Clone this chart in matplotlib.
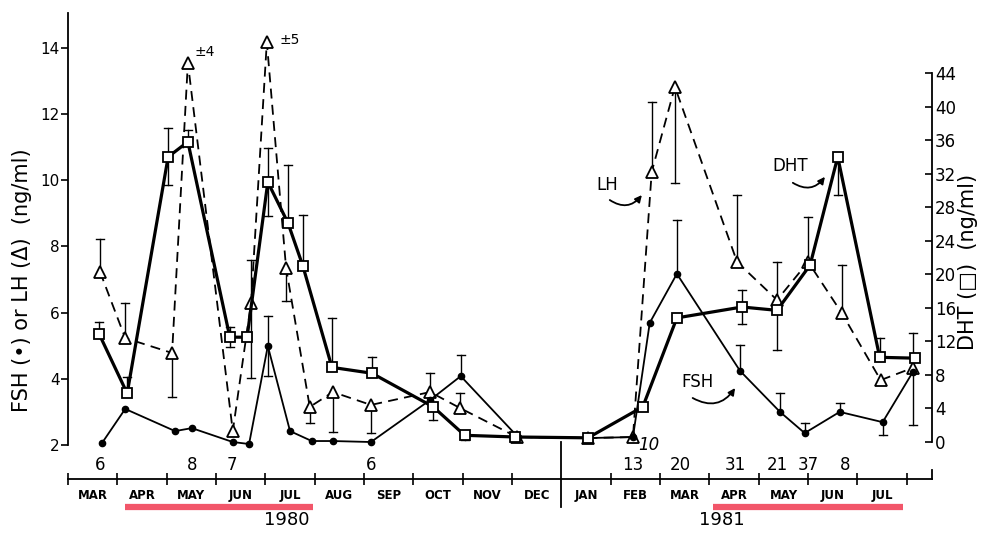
import numpy as np
import matplotlib.pyplot as plt

# x is in months counted from the start of March 1980
month_names = ['MAR', 'APR', 'MAY', 'JUN', 'JUL', 'AUG', 'SEP', 'OCT', 'NOV', 'DEC',
               'JAN', 'FEB', 'MAR', 'APR', 'MAY', 'JUN', 'JUL']

# FSH (ng/ml), filled dots
fsh_x = [0.69, 1.16, 2.17, 2.51, 3.34, 3.67, 4.05, 4.50, 4.94, 5.37, 6.14, 7.34, 7.96,
         9.12, 10.56, 11.45, 11.79, 12.34, 13.62, 14.43, 14.93, 15.64, 16.51, 17.12]
fsh = [2.06, 3.09, 2.42, 2.51, 2.09, 2.03, 4.99, 2.42, 2.12, 2.12, 2.09, 3.36, 4.08,
       2.24, 2.21, 2.24, 5.69, 7.17, 4.24, 3.00, 2.36, 3.00, 2.69, 4.20]
fsh_hi = [0, 0, 0, 0, 0, 0, 0.9, 0, 0, 0, 0, 0, 0.64,
          0, 0, 0, 0, 1.63, 0.78, 0.57, 0.30, 0.27, 0, 0]
fsh_lo = [0, 0, 0, 0, 0, 0, 0.9, 0, 0, 0, 0, 0, 0,
          0, 0, 0, 0, 0, 0, 0, 0, 0, 0.39, 0]

# LH (ng/ml), open triangles
lh_x = [0.65, 1.16, 2.11, 2.43, 3.34, 3.71, 4.03, 4.42, 4.90, 5.37, 6.14, 7.34, 7.94,
        9.10, 10.54, 11.45, 11.83, 12.30, 13.56, 14.37, 15.00, 15.68, 16.47, 17.12]
lh = [7.23, 5.23, 4.78, 13.54, 2.42, 6.29, 14.17, 7.35, 3.15, 3.60, 3.21, 3.60, 3.12,
      2.24, 2.21, 2.24, 10.25, 12.82, 7.53, 6.38, 7.53, 5.99, 3.96, 4.33]
lh_hi = [1.0, 1.06, 0, 0, 0, 1.3, 0, 0, 0, 0, 0, 0.57, 0.45,
         0, 0, 0, 2.11, 0, 2.02, 1.15, 1.36, 1.44, 0, 1.05]
lh_lo = [0, 0, 1.33, 0, 0, 2.27, 0, 1.0, 0.49, 1.2, 0.85, 0, 0,
         0, 0, 0, 0, 2.9, 0, 1.51, 0, 0, 0, 1.73]

# DHT (ng/ml), open squares
dht_x = [0.63, 1.20, 2.03, 2.43, 3.28, 3.63, 4.05, 4.46, 4.76, 5.35, 6.16, 7.40, 8.04,
         9.06, 10.54, 11.65, 12.34, 13.66, 14.37, 15.04, 15.60, 16.45, 17.16]
dht = [12.9, 5.8, 34.0, 35.8, 12.5, 12.5, 31.0, 26.1, 21.0, 8.9, 8.2, 4.2, 0.8,
       0.6, 0.5, 4.2, 14.8, 16.1, 15.7, 21.1, 34.0, 10.1, 10.0]
dht_hi = [1.4, 1.9, 3.4, 1.4, 1.2, 0, 4.1, 6.9, 6.1, 5.9, 1.9, 0, 0,
          0, 0, 0, 0, 2.0, 0, 0, 0, 2.3, 0]
dht_lo = [0, 0, 3.4, 0, 1.2, 0, 4.1, 0, 0, 0, 0, 1.55, 0.6,
          0, 0, 0, 0, 2.0, 0, 0, 4.5, 0, 0]

# number of subjects written under the points
n_x = [0.65, 2.51, 3.32, 6.14, 11.45, 12.4, 13.52, 14.37, 15.0, 15.74]
n_txt = ['6', '8', '7', '6', '13', '20', '31', '21', '37', '8']

# breeding seasons marked in red
seasons = [(1.155, 4.96), (13.07, 16.92)]
years = [(4.44, '1980'), (13.25, '1981')]


def draw_err(axis, x, y, lo, hi, cap=0.08):
    for xi, yi, l, h in zip(x, y, lo, hi):
        for end in (yi + h if h > 0 else None, yi - l if l > 0 else None):
            if end is None:
                continue
            axis.plot([xi, xi], [yi, end], color='k', lw=1.0, zorder=2)
            axis.plot([xi - cap, xi + cap], [end, end], color='k', lw=1.0, zorder=2)


fig = plt.figure(figsize=(9.88, 5.34), dpi=100)
ax = fig.add_axes([0.0688, 0.103, 0.8745, 0.8727])
ax2 = ax.twinx()
ax.set_xlim(0, 17.51)
ax.set_ylim(0.973, 15.05)
ax2.set_ylim(-4.41, 51.16)

# DHT on the right-hand scale
draw_err(ax2, dht_x, dht, dht_lo, dht_hi)
ax2.plot(dht_x, dht, color='k', lw=2.3, marker='s', ms=7.5, mfc='white', mec='k',
         mew=1.3, zorder=4)

# LH and FSH on the left-hand scale
draw_err(ax, lh_x, lh, lh_lo, lh_hi)
draw_err(ax, fsh_x, fsh, fsh_lo, fsh_hi)
ax.plot(lh_x, lh, color='k', lw=1.3, ls=(0, (5.5, 3.5)), marker='^', ms=8, mfc='white',
        mec='k', mew=1.3, zorder=3)
ax.plot(fsh_x, fsh, color='k', lw=1.3, marker='o', ms=4.5, zorder=3)

ax.text(2.78, 13.87, '±4', fontsize=10, ha='center', va='center')
ax.text(4.50, 14.22, '±5', fontsize=10, ha='center', va='center')
ax.text(11.77, 2.0, '10', fontsize=12, ha='center', va='center', style='italic')
for xi, t in zip(n_x, n_txt):
    ax.text(xi, 1.4, t, fontsize=12, ha='center', va='center')

# hormone names with little curved arrows
ax.text(10.92, 9.85, 'LH', fontsize=12, ha='center', va='center')
ax.text(14.63, 10.43, 'DHT', fontsize=12, ha='center', va='center')
ax.text(12.75, 3.90, 'FSH', fontsize=12, ha='center', va='center')
arrow = dict(arrowstyle='-|>', color='k', lw=1.3, mutation_scale=10,
             connectionstyle='arc3,rad=0.45', shrinkA=0, shrinkB=0)
ax.annotate('', xy=(11.63, 9.55), xytext=(10.98, 9.40), arrowprops=arrow)
ax.annotate('', xy=(15.34, 10.10), xytext=(14.69, 9.92), arrowprops=arrow)
ax.annotate('', xy=(13.52, 3.72), xytext=(12.66, 3.42), arrowprops=arrow)

# axes styling
for s in ['top', 'right']:
    ax.spines[s].set_visible(False)
for s in ['top', 'left', 'bottom']:
    ax2.spines[s].set_visible(False)
ax.spines['left'].set_bounds(2, 15.05)
ax2.spines['right'].set_bounds(0, 44)
for sp in list(ax.spines.values()) + list(ax2.spines.values()):
    sp.set_linewidth(1.3)

ax.set_yticks(range(2, 15, 2))
ax.tick_params(axis='y', direction='out', length=5, width=1.2, pad=1, labelsize=11)
ax2.set_yticks(range(0, 45, 4))
ax2.tick_params(axis='y', direction='in', length=5, width=1.2, pad=2, labelsize=12)

ax.set_xticks([m for m in range(18) if m != 10])
ax.set_xticks(np.arange(17) + 0.5, minor=True)
ax.set_xticklabels([])
ax.set_xticklabels(month_names, minor=True, fontsize=8.5, fontweight='bold')
ax.tick_params(axis='x', which='major', direction='inout', length=9, width=1.2)
ax.tick_params(axis='x', which='minor', length=0, pad=7)
ax.axvline(10, ymin=-0.06, ymax=0.079, color='k', lw=1.3, clip_on=False)
# small upturn at the right end of the time axis
ax.axvline(17.51, ymin=0, ymax=0.02, color='k', lw=1.3, clip_on=False)

xt = ax.get_xaxis_transform()
for a, b in seasons:
    ax.plot([a, b], [-0.06, -0.06], color='#f2566a', lw=4.5, transform=xt,
            clip_on=False, solid_capstyle='butt')
for xi, t in years:
    ax.text(xi, -0.088, t, transform=xt, fontsize=13, ha='center', va='center')

fig.text(22 / 988, 1 - 280 / 534, 'FSH (•) or LH (Δ)  (ng/ml)', rotation=90,
         fontsize=15, ha='center', va='center')
fig.text(968 / 988, 1 - 262 / 534, 'DHT (□)  (ng/ml)', rotation=90,
         fontsize=15, ha='center', va='center')

fig.savefig('out.png', dpi=100)
